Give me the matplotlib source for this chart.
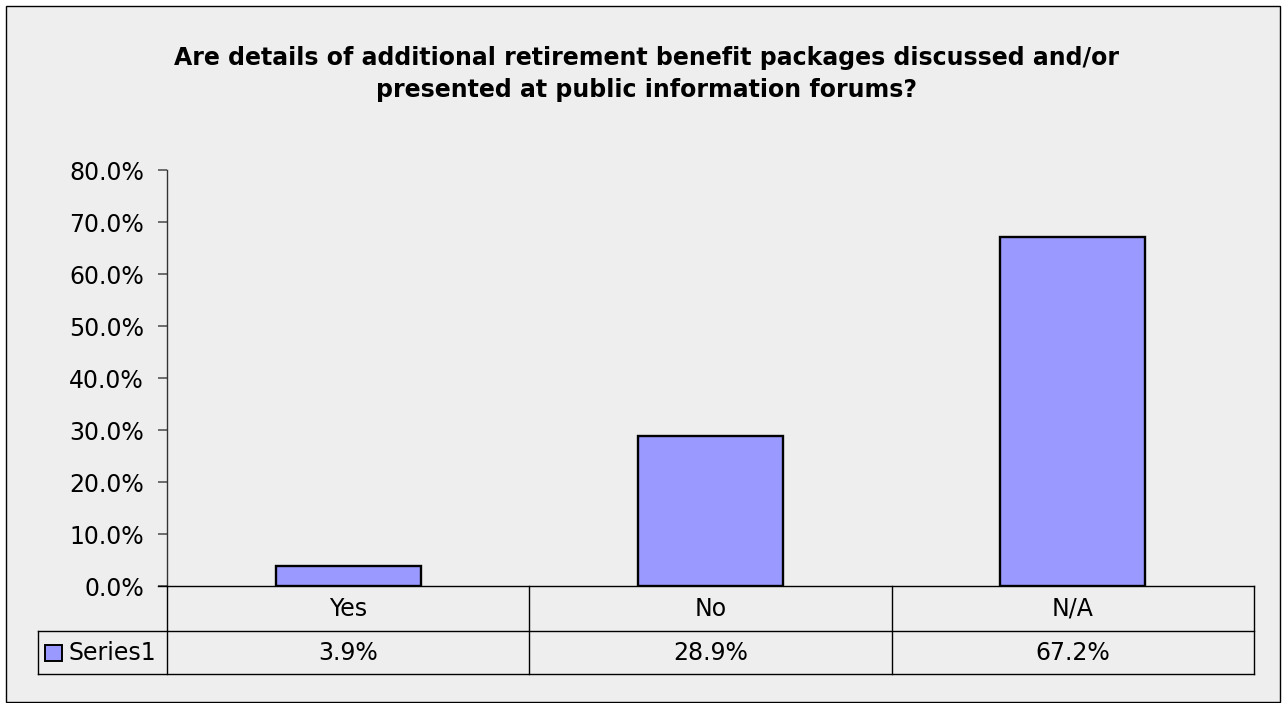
import matplotlib
matplotlib.use("Agg")
import matplotlib.pyplot as plt
from matplotlib.lines import Line2D
from matplotlib.patches import Rectangle
import numpy as np

categories = ["Yes", "No", "N/A"]
values = [3.9, 28.9, 67.2]
series_name = "Series1"
yticks = [0, 10, 20, 30, 40, 50, 60, 70, 80]
title = ("Are details of additional retirement benefit packages discussed and/or\n"
         "presented at public information forums?")

W, H = 1283, 703
BG = "#EEEEEE"
BAR = "#9999FF"
FONT = "DejaVu Sans"
FS = 17

fig = plt.figure(figsize=(W / 100, H / 100), dpi=100, facecolor="white")

def fx(px):
    return px / W

def fy(py):
    return 1 - py / H

# chart area background and frame
fig.patches.append(Rectangle((fx(6), fy(702)), fx(1280) - fx(6), fy(6) - fy(702),
                             transform=fig.transFigure, facecolor=BG,
                             edgecolor="black", linewidth=1.0, zorder=-10))

L, R, T, B = 167, 1254, 170, 586
ax = fig.add_axes([fx(L), fy(B), fx(R) - fx(L), fy(T) - fy(B)], zorder=2)
ax.patch.set_visible(False)

x = np.arange(len(categories))
ax.bar(x, values, width=0.4, color=BAR, edgecolor="black", linewidth=1.7, zorder=3)
ax.set_xlim(-0.5, len(categories) - 0.5)
ax.set_ylim(0, 80)
ax.set_yticks(yticks)
ax.set_yticklabels([f"{v:.1f}%" for v in yticks], fontsize=FS, family=FONT)
ax.tick_params(axis="y", length=6.5, width=1.2, color="#555555", pad=10)
ax.tick_params(axis="x", bottom=False, labelbottom=False)
for s in ["top", "right", "bottom"]:
    ax.spines[s].set_visible(False)
ax.spines["left"].set_color("#333333")
ax.spines["left"].set_linewidth(1.0)

fig.text(fx(646), fy(74), title, ha="center", va="center", fontsize=17,
         fontweight="bold", family=FONT, linespacing=1.4)

# data table below the plot
row1_top, row2_top, row_bot = B, 631, 674
tbl_left = 38
cell_w = (R - L) / len(categories)

def hline(x0, x1, y):
    fig.add_artist(Line2D([fx(x0), fx(x1)], [fy(y), fy(y)], transform=fig.transFigure,
                          color="black", linewidth=1.0, zorder=5))

def vline(xp, y0, y1):
    fig.add_artist(Line2D([fx(xp), fx(xp)], [fy(y0), fy(y1)], transform=fig.transFigure,
                          color="black", linewidth=1.0, zorder=5))

hline(158, R, row1_top)
hline(tbl_left, R, row2_top)
hline(tbl_left, R, row_bot)
vline(tbl_left, row2_top, row_bot)
vline(L, row1_top, row_bot)
for i in range(1, len(categories) + 1):
    vline(L + i * cell_w, row1_top, row_bot)

for i, (c, v) in enumerate(zip(categories, values)):
    cx = L + (i + 0.5) * cell_w
    fig.text(fx(cx), fy((row1_top + row2_top) / 2), c, ha="center", va="center",
             fontsize=FS, family=FONT)
    fig.text(fx(cx), fy((row2_top + row_bot) / 2), f"{v:.1f}%", ha="center",
             va="center", fontsize=FS, family=FONT)

ymid = (row2_top + row_bot) / 2
fig.patches.append(Rectangle((fx(45), fy(ymid + 8)), fx(17), fy(0) - fy(16),
                             transform=fig.transFigure, facecolor=BAR,
                             edgecolor="black", linewidth=1.4))
fig.text(fx(69), fy(ymid), series_name, ha="left", va="center", fontsize=FS, family=FONT)

fig.savefig("out.png", dpi=100, facecolor="white")
